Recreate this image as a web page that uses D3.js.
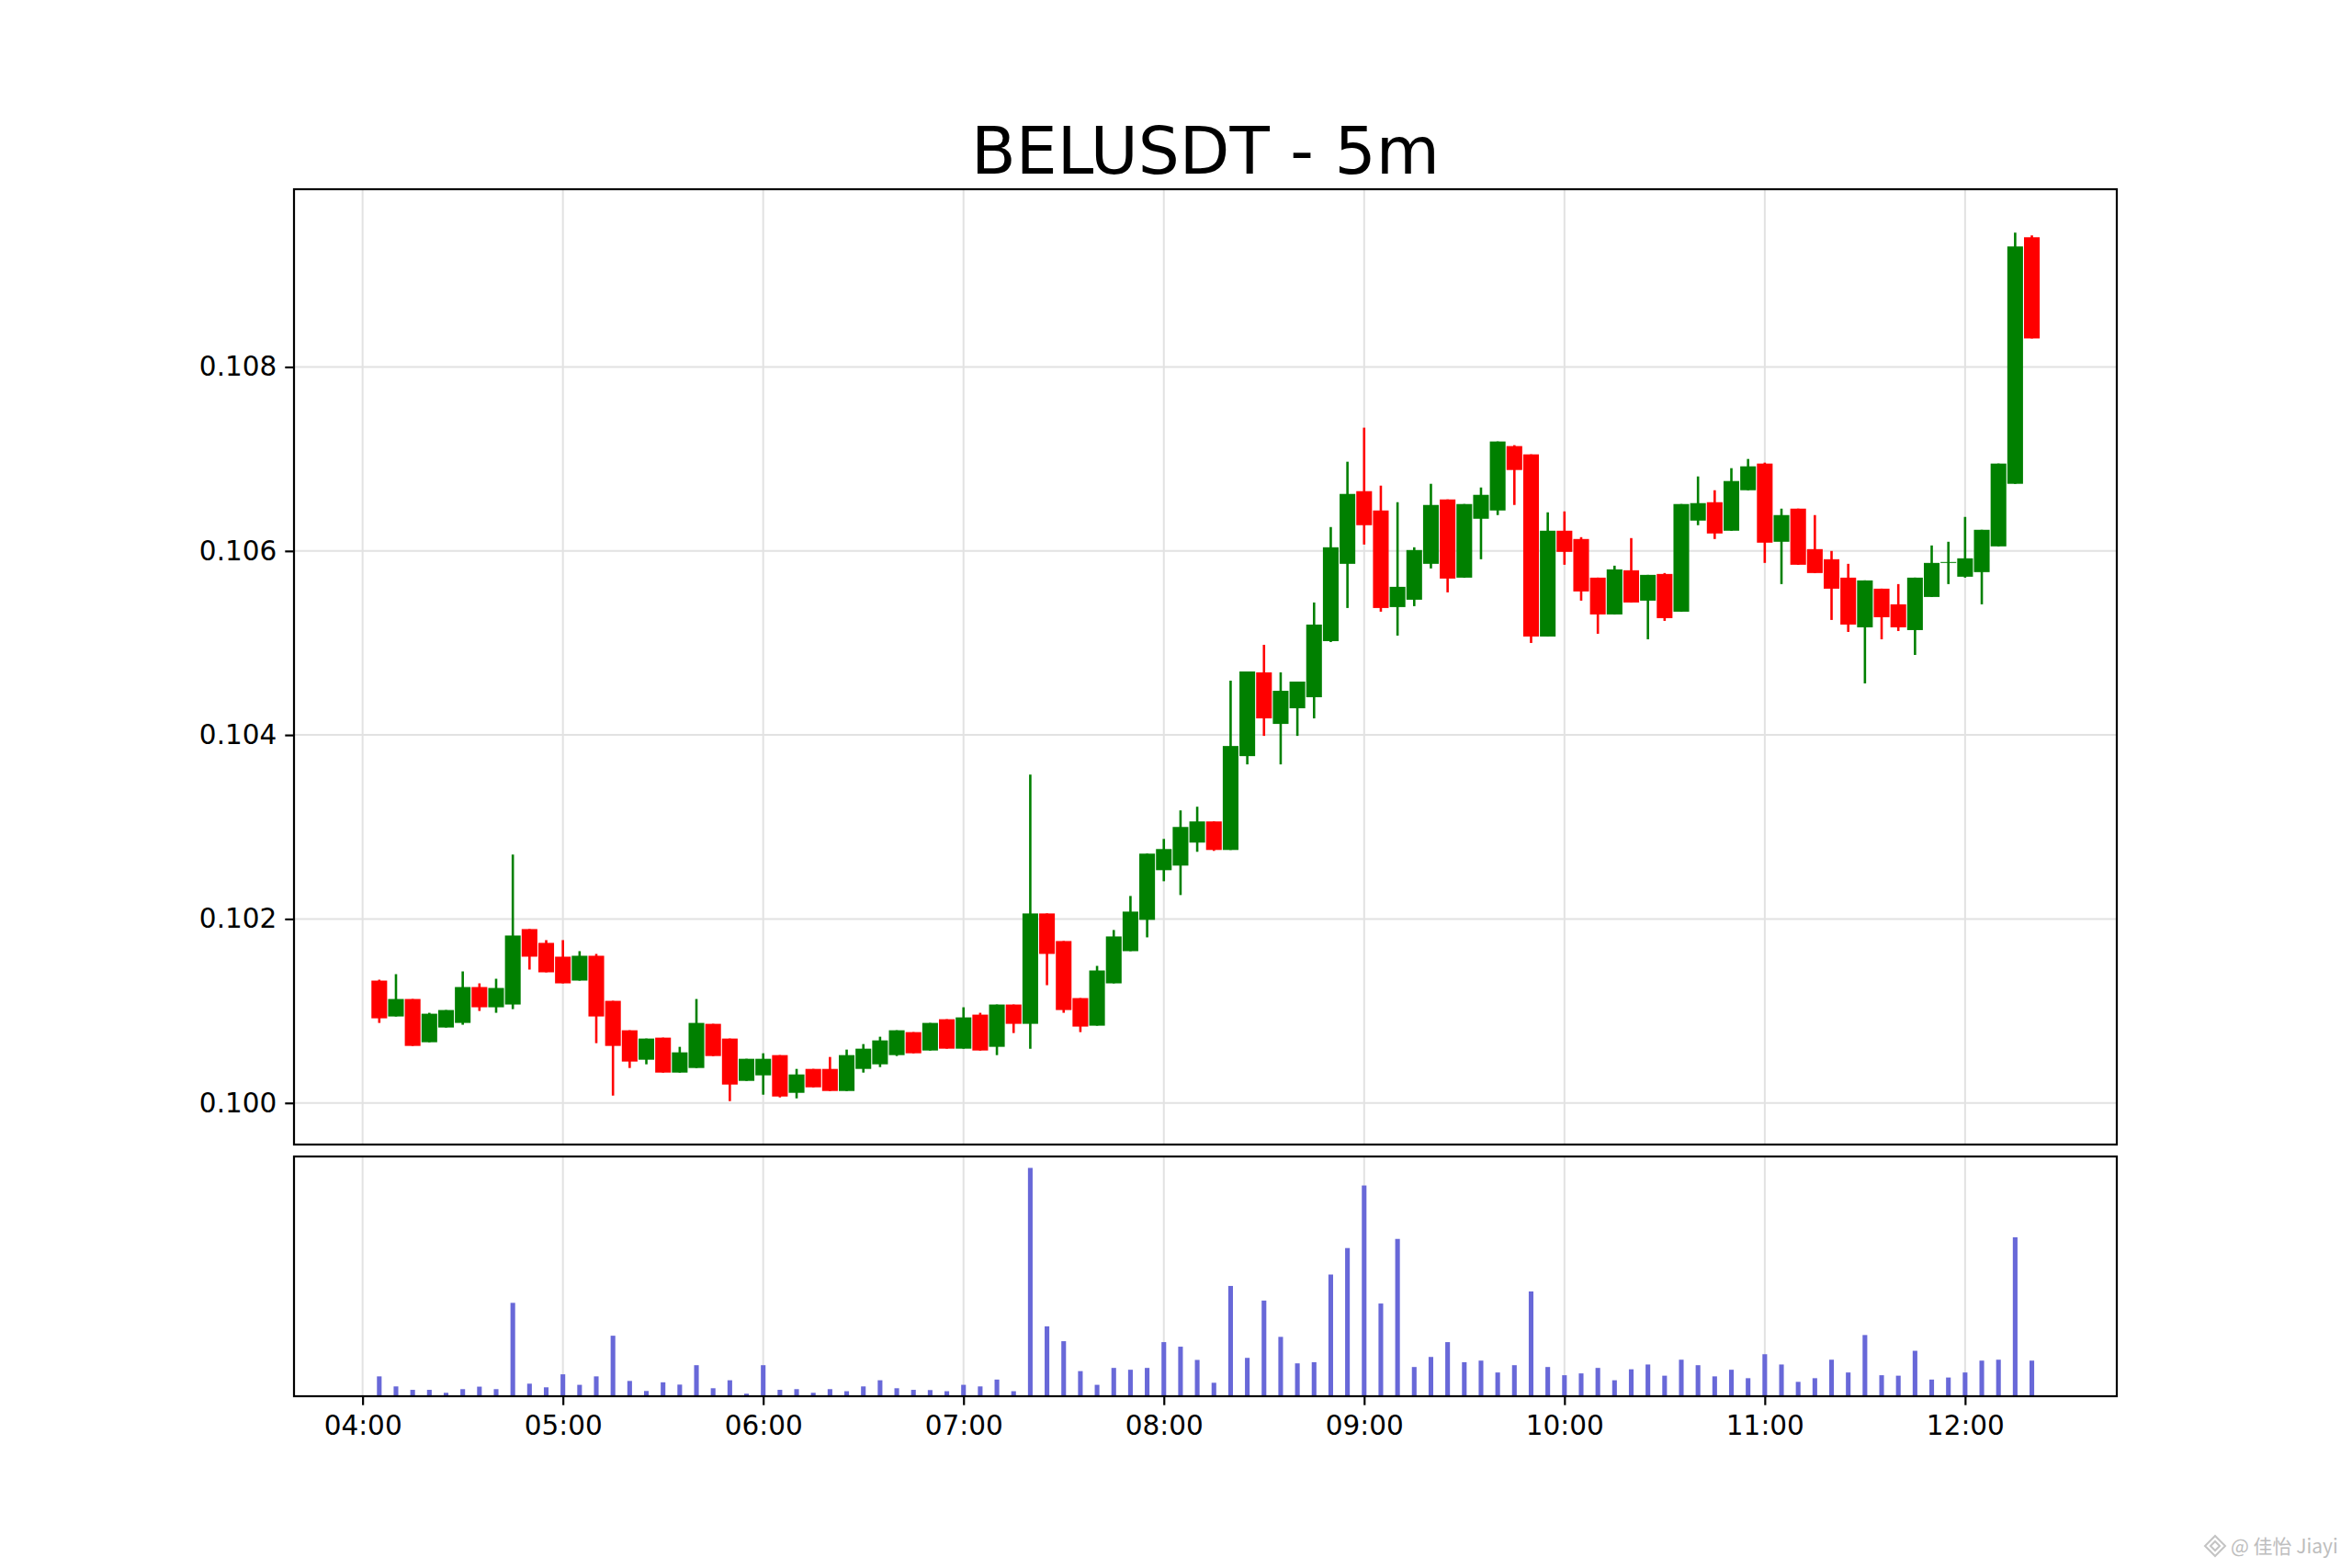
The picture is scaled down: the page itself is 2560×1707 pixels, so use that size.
<!DOCTYPE html>
<html>
<head>
<meta charset="utf-8">
<script src="https://cdn.jsdelivr.net/npm/d3@7"></script>
<style>
  html, body { margin: 0; padding: 0; background: #fff; }
  svg { display: block; font-family: "DejaVu Sans", sans-serif; }
</style>
</head>
<body>
<div id="chart"></div>
<script>
// 5m candles
const times = [
  "04:05","04:10","04:15","04:20","04:25","04:30","04:35","04:40","04:45","04:50","04:55",
  "05:00","05:05","05:10","05:15","05:20","05:25","05:30","05:35","05:40","05:45","05:50","05:55",
  "06:00","06:05","06:10","06:15","06:20","06:25","06:30","06:35","06:40","06:45","06:50","06:55",
  "07:00","07:05","07:10","07:15","07:20","07:25","07:30","07:35","07:40","07:45","07:50","07:55",
  "08:00","08:05","08:10","08:15","08:20","08:25","08:30","08:35","08:40","08:45","08:50","08:55",
  "09:00","09:05","09:10","09:15","09:20","09:25","09:30","09:35","09:40","09:45","09:50","09:55",
  "10:00","10:05","10:10","10:15","10:20","10:25","10:30","10:35","10:40","10:45","10:50","10:55",
  "11:00","11:05","11:10","11:15","11:20","11:25","11:30","11:35","11:40","11:45","11:50","11:55",
  "12:00","12:05","12:10","12:15","12:20"
];

const opens = [
  0.10133,0.10094,0.10113,0.10066,0.10082,0.10087,0.10126,0.10104,0.10107,0.10189,0.10174,
  0.10159,0.10133,0.10160,0.10111,0.10079,0.10047,0.10071,0.10033,0.10038,0.10086,0.10070,0.10024,
  0.10030,0.10052,0.10011,0.10037,0.10037,0.10013,0.10037,0.10042,0.10052,0.10077,0.10057,0.10091,
  0.10059,0.10096,0.10061,0.10107,0.10086,0.10206,0.10176,0.10114,0.10084,0.10130,0.10165,0.10199,
  0.10253,0.10258,0.10283,0.10306,0.10275,0.10377,0.10468,0.10412,0.10429,0.10441,0.10502,0.10586,
  0.10665,0.10644,0.10539,0.10547,0.10586,0.10656,0.10571,0.10635,0.10644,0.10714,0.10705,0.10507,
  0.10622,0.10613,0.10571,0.10531,0.10579,0.10546,0.10575,0.10534,0.10633,0.10653,0.10622,0.10666,
  0.10695,0.10610,0.10646,0.10602,0.10591,0.10571,0.10517,0.10559,0.10542,0.10514,0.10550,0.10587,
  0.10572,0.10577,0.10605,0.10673,0.10941
];

const highs = [
  0.10134,0.10140,0.10113,0.10098,0.10101,0.10143,0.10130,0.10135,0.10270,0.10189,0.10177,
  0.10177,0.10165,0.10162,0.10111,0.10079,0.10070,0.10071,0.10061,0.10113,0.10086,0.10070,0.10048,
  0.10054,0.10052,0.10037,0.10037,0.10050,0.10058,0.10064,0.10072,0.10079,0.10077,0.10087,0.10091,
  0.10104,0.10098,0.10107,0.10107,0.10357,0.10206,0.10176,0.10114,0.10149,0.10188,0.10225,0.10271,
  0.10287,0.10318,0.10322,0.10306,0.10459,0.10469,0.10498,0.10468,0.10458,0.10544,0.10626,0.10697,
  0.10734,0.10671,0.10653,0.10604,0.10673,0.10656,0.10651,0.10669,0.10719,0.10715,0.10705,0.10642,
  0.10643,0.10615,0.10571,0.10584,0.10614,0.10574,0.10576,0.10651,0.10681,0.10666,0.10690,0.10700,
  0.10696,0.10646,0.10646,0.10639,0.10600,0.10586,0.10568,0.10559,0.10564,0.10571,0.10606,0.10610,
  0.10637,0.10623,0.10695,0.10946,0.10943
];

const lows = [
  0.10087,0.10094,0.10062,0.10066,0.10082,0.10085,0.10100,0.10098,0.10102,0.10145,0.10142,
  0.10130,0.10133,0.10065,0.10008,0.10038,0.10042,0.10033,0.10033,0.10038,0.10051,0.10002,0.10024,
  0.10009,0.10006,0.10005,0.10017,0.10013,0.10013,0.10033,0.10039,0.10051,0.10054,0.10057,0.10059,
  0.10059,0.10057,0.10052,0.10076,0.10059,0.10128,0.10098,0.10077,0.10084,0.10130,0.10165,0.10180,
  0.10241,0.10226,0.10273,0.10274,0.10275,0.10368,0.10399,0.10368,0.10399,0.10418,0.10501,0.10538,
  0.10607,0.10534,0.10508,0.10540,0.10581,0.10555,0.10571,0.10591,0.10639,0.10650,0.10500,0.10507,
  0.10585,0.10546,0.10510,0.10531,0.10544,0.10504,0.10524,0.10534,0.10628,0.10613,0.10622,0.10666,
  0.10587,0.10564,0.10585,0.10576,0.10525,0.10512,0.10456,0.10504,0.10513,0.10487,0.10550,0.10564,
  0.10571,0.10542,0.10605,0.10673,0.10831
];

const closes = [
  0.10092,0.10113,0.10062,0.10097,0.10101,0.10126,0.10104,0.10125,0.10182,0.10159,0.10142,
  0.10130,0.10160,0.10094,0.10062,0.10045,0.10070,0.10033,0.10055,0.10087,0.10051,0.10020,0.10048,
  0.10048,0.10007,0.10031,0.10017,0.10013,0.10052,0.10059,0.10068,0.10079,0.10054,0.10087,0.10059,
  0.10093,0.10057,0.10107,0.10086,0.10206,0.10162,0.10101,0.10083,0.10144,0.10181,0.10208,0.10271,
  0.10276,0.10300,0.10306,0.10275,0.10388,0.10469,0.10418,0.10448,0.10458,0.10520,0.10604,0.10662,
  0.10628,0.10538,0.10561,0.10601,0.10650,0.10570,0.10651,0.10661,0.10719,0.10688,0.10507,0.10622,
  0.10599,0.10556,0.10531,0.10580,0.10544,0.10574,0.10527,0.10651,0.10652,0.10619,0.10676,0.10692,
  0.10609,0.10639,0.10585,0.10576,0.10559,0.10520,0.10568,0.10528,0.10517,0.10571,0.10587,0.10588,
  0.10592,0.10623,0.10695,0.10931,0.10831
];

// volume, relative units (tallest bar = 100)
const volumes = [
  8.7,4.3,2.8,2.8,1.5,3.1,4.2,3.1,40.9,5.5,3.9,
  9.6,5.0,8.7,26.5,6.7,2.3,6.1,5.1,13.6,3.5,7.0,1.1,
  13.6,2.8,3.1,1.5,3.1,2.2,4.3,7.0,3.5,2.8,2.7,2.2,
  5.0,4.3,7.3,2.2,100,30.6,24.1,11.0,5.0,12.4,11.6,12.4,
  23.7,21.7,15.9,5.9,48.3,16.8,41.9,26.0,14.4,14.9,53.3,64.9,
  92.3,40.6,68.9,12.8,17.2,23.7,14.9,15.6,10.4,13.6,45.9,12.8,
  9.2,10.0,12.4,7.0,11.8,13.9,9.0,16.0,13.6,8.7,11.6,7.9,
  18.4,13.9,6.3,7.9,16.0,10.4,26.8,9.2,9.0,19.9,7.3,8.2,
  10.4,15.6,16.0,69.6,15.6
];

const priceTicks = [0.100, 0.102, 0.104, 0.106, 0.108];
const chartTitle = "BELUSDT - 5m";

(function () {
  const svgWidth = 2560;
  const svgHeight = 1707;

  // panel boxes
  const left = 320, right = 2304;
  const pTop = 206, pBottom = 1246;
  const vTop = 1259, vBottom = 1520;

  const upColor = "#008000";
  const downColor = "#ff0000";
  const volColor = "#6868d8";
  const gridColor = "#e2e2e2";

  const parseTime = s => {
    const [h, m] = s.split(":").map(Number);
    return new Date(2024, 0, 1, h, m);
  };

  const data = times.map((t, i) => ({
    date: parseTime(t),
    open: opens[i],
    high: highs[i],
    low: lows[i],
    close: closes[i],
    volume: volumes[i]
  }));

  const svg = d3.select("#chart")
    .append("svg")
    .attr("width", svgWidth)
    .attr("height", svgHeight);

  svg.append("rect")
    .attr("width", svgWidth)
    .attr("height", svgHeight)
    .attr("fill", "#fff");

  // x scale with a little margin on both sides
  const [t0, t1] = d3.extent(data, d => d.date);
  const span = t1 - t0;
  const x = d3.scaleTime()
    .domain([new Date(+t0 - span * 0.0516), new Date(+t1 + span * 0.0514)])
    .range([left, right]);

  const lo = d3.min(data, d => d.low);
  const hi = d3.max(data, d => d.high);
  const pad = (hi - lo) * 0.05;
  const y = d3.scaleLinear()
    .domain([lo - pad, hi + pad])
    .range([pBottom, pTop]);

  const yv = d3.scaleLinear()
    .domain([0, d3.max(data, d => d.volume) * 1.05])
    .range([vBottom, vTop]);

  const step = x(data[1].date) - x(data[0].date);
  const bodyW = step * 0.94;
  const volW = step * 0.28;

  const hourTicks = d3.timeHour.every(1).range(x.domain()[0], x.domain()[1]);

  // grid: price panel
  const gP = svg.append("g");
  gP.selectAll(".vg")
    .data(hourTicks)
    .join("line")
    .attr("x1", d => x(d)).attr("x2", d => x(d))
    .attr("y1", pTop).attr("y2", pBottom)
    .attr("stroke", gridColor)
    .attr("stroke-width", 2);
  gP.selectAll(".hg")
    .data(priceTicks)
    .join("line")
    .attr("x1", left).attr("x2", right)
    .attr("y1", d => y(d)).attr("y2", d => y(d))
    .attr("stroke", gridColor)
    .attr("stroke-width", 2);

  // grid: volume panel
  svg.append("g").selectAll("line")
    .data(hourTicks)
    .join("line")
    .attr("x1", d => x(d)).attr("x2", d => x(d))
    .attr("y1", vTop).attr("y2", vBottom)
    .attr("stroke", gridColor)
    .attr("stroke-width", 2);

  // candles
  const candles = svg.append("g");
  const colorOf = d => d.close >= d.open ? upColor : downColor;

  candles.selectAll(".wick")
    .data(data)
    .join("line")
    .attr("x1", d => x(d.date)).attr("x2", d => x(d.date))
    .attr("y1", d => y(d.high)).attr("y2", d => y(d.low))
    .attr("stroke", colorOf)
    .attr("stroke-width", 2.6);

  candles.selectAll(".body")
    .data(data)
    .join("rect")
    .attr("x", d => x(d.date) - bodyW / 2)
    .attr("width", bodyW)
    .attr("y", d => y(Math.max(d.open, d.close)))
    .attr("height", d => Math.max(1, Math.abs(y(d.open) - y(d.close))))
    .attr("fill", colorOf);

  // volume bars
  svg.append("g").selectAll("rect")
    .data(data)
    .join("rect")
    .attr("x", d => x(d.date) - volW / 2)
    .attr("width", volW)
    .attr("y", d => yv(d.volume))
    .attr("height", d => vBottom - yv(d.volume))
    .attr("fill", volColor);

  // y axis (price)
  const yAxis = svg.append("g")
    .attr("transform", `translate(${left},0)`)
    .call(d3.axisLeft(y)
      .tickValues(priceTicks)
      .tickFormat(d3.format(".3f"))
      .tickSize(9.7)
      .tickPadding(9));
  yAxis.select(".domain").remove();
  yAxis.selectAll("line").attr("stroke", "#000").attr("stroke-width", 2.2);
  yAxis.selectAll("text")
    .attr("fill", "#000")
    .style("font-size", "29.5px")
    .style("font-family", "DejaVu Sans");

  // x axis (time) under volume panel
  const xAxis = svg.append("g")
    .attr("transform", `translate(0,${vBottom})`)
    .call(d3.axisBottom(x)
      .tickValues(hourTicks)
      .tickFormat(d3.timeFormat("%H:%M"))
      .tickSize(9.7)
      .tickPadding(11));
  xAxis.select(".domain").remove();
  xAxis.selectAll("line").attr("stroke", "#000").attr("stroke-width", 2.2);
  xAxis.selectAll("text")
    .attr("fill", "#000")
    .style("font-size", "29.5px")
    .style("font-family", "DejaVu Sans");

  // frames
  svg.append("rect")
    .attr("x", left).attr("y", pTop)
    .attr("width", right - left).attr("height", pBottom - pTop)
    .attr("fill", "none")
    .attr("stroke", "#000")
    .attr("stroke-width", 2.2);
  svg.append("rect")
    .attr("x", left).attr("y", vTop)
    .attr("width", right - left).attr("height", vBottom - vTop)
    .attr("fill", "none")
    .attr("stroke", "#000")
    .attr("stroke-width", 2.2);

  // title
  svg.append("text")
    .attr("x", (left + right) / 2)
    .attr("y", 189)
    .attr("text-anchor", "middle")
    .style("font-size", "71px")
    .style("font-family", "DejaVu Sans")
    .text(chartTitle);

  // watermark bottom right
  const wm = svg.append("g")
    .attr("transform", "translate(2411,1683)")
    .attr("fill", "none")
    .attr("stroke", "#c4c4c4")
    .attr("stroke-width", 2);
  wm.append("path").attr("d", "M0,-11 L11,0 L0,11 L-11,0 Z");
  wm.append("path").attr("d", "M0,-5 L5,0 L0,5 L-5,0 Z");
  svg.append("text")
    .attr("x", 2428)
    .attr("y", 1691)
    .attr("fill", "#bdbdbd")
    .style("font-size", "21px")
    .style("font-family", "Noto Sans CJK SC, DejaVu Sans")
    .text("@ 佳怡 Jiayi");
})();
</script>
</body>
</html>
